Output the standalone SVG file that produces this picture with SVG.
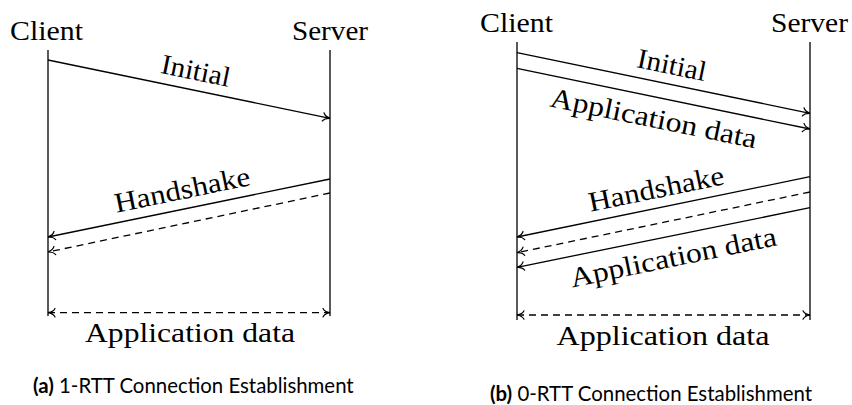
<svg xmlns="http://www.w3.org/2000/svg" width="852" height="405" viewBox="0 0 852 405">
<style>
.lbl{font-family:"Liberation Serif","Times New Roman",serif;font-size:28px;fill:#000}
.cap{font-family:Lato,"Noto Sans",sans-serif;font-size:20.4px;fill:#000}
.life{stroke:#000;stroke-width:1.3;fill:none}
.msg{stroke:#000;stroke-width:1.3;fill:none;marker-end:url(#to)}
.dash{stroke-dasharray:7 5}
.both{marker-start:url(#to)}
</style>
<defs>
<marker id="to" viewBox="-9 -6 11 12" markerWidth="11" markerHeight="12" refX="0" refY="0" orient="auto-start-reverse" markerUnits="userSpaceOnUse">
<path d="M-7,-4.2 C-5.8,-1.8 -2.4,-0.4 0,0 C-2.4,0.4 -5.8,1.8 -7,4.2" fill="none" stroke="#000" stroke-width="1.2" stroke-dasharray="none" stroke-linecap="round"/>
</marker>
</defs>

<!-- Diagram (a) -->
<g id="a-client">
<text class="lbl" x="10" y="40" textLength="73" lengthAdjust="spacingAndGlyphs">Client</text>
<line class="life" x1="48" y1="50" x2="48" y2="316"/>
</g>
<g id="a-server">
<text class="lbl" x="292" y="40" textLength="76" lengthAdjust="spacingAndGlyphs">Server</text>
<line class="life" x1="330" y1="50" x2="330" y2="316"/>
</g>
<g id="a-connectors">
<line class="msg" x1="48" y1="60" x2="330" y2="118.3"/>
<line class="msg" x1="330" y1="179" x2="48" y2="237"/>
<line class="msg dash" x1="330" y1="193" x2="48" y2="252"/>
<line class="msg dash both" x1="48" y1="312.7" x2="330" y2="312.7"/>
</g>
<g id="a-labels">
<text class="lbl" text-anchor="middle" x="192" y="79.6" transform="rotate(11.6 192 89.6)" textLength="70" lengthAdjust="spacingAndGlyphs">Initial</text>
<text class="lbl" text-anchor="middle" x="186" y="198.6" transform="rotate(-11.6 186 208.6)" textLength="138" lengthAdjust="spacingAndGlyphs">Handshake</text>
<text class="lbl" text-anchor="middle" x="190" y="342" textLength="210" lengthAdjust="spacingAndGlyphs">Application data</text>
</g>
<g id="caption-a">
<text class="cap" x="33" y="393"><tspan font-weight="bold">(a)</tspan> 1-RTT Connection Establishment</text>
</g>

<!-- Diagram (b) -->
<g id="b-client">
<text class="lbl" x="480" y="32" textLength="73" lengthAdjust="spacingAndGlyphs">Client</text>
<line class="life" x1="517" y1="42" x2="517" y2="320"/>
</g>
<g id="b-server">
<text class="lbl" x="771" y="32" textLength="77" lengthAdjust="spacingAndGlyphs">Server</text>
<line class="life" x1="810" y1="42" x2="810" y2="320"/>
</g>
<g id="b-connectors">
<line class="msg" x1="517" y1="52.7" x2="810" y2="113.3"/>
<line class="msg" x1="517" y1="68.3" x2="810" y2="129"/>
<line class="msg" x1="810" y1="176.7" x2="517" y2="237"/>
<line class="msg dash" x1="810" y1="192" x2="517" y2="252.7"/>
<line class="msg" x1="810" y1="207.7" x2="517" y2="267.3"/>
<line class="msg dash both" x1="517" y1="315" x2="810" y2="315"/>
</g>
<g id="b-labels">
<text class="lbl" text-anchor="middle" x="668" y="73.9" transform="rotate(11.6 668 83.9)" textLength="70" lengthAdjust="spacingAndGlyphs">Initial</text>
<text class="lbl" text-anchor="middle" x="658" y="127.9" transform="rotate(11.6 658 97.9)" textLength="210" lengthAdjust="spacingAndGlyphs">Application data</text>
<text class="lbl" text-anchor="middle" x="660" y="197.7" transform="rotate(-11.6 660 207.7)" textLength="138" lengthAdjust="spacingAndGlyphs">Handshake</text>
<text class="lbl" text-anchor="middle" x="669" y="266.9" transform="rotate(-11.6 669 236.9)" textLength="210" lengthAdjust="spacingAndGlyphs">Application data</text>
<text class="lbl" text-anchor="middle" x="663" y="345" textLength="213" lengthAdjust="spacingAndGlyphs">Application data</text>
</g>
<g id="caption-b">
<text class="cap" x="490" y="401"><tspan font-weight="bold">(b)</tspan> 0-RTT Connection Establishment</text>
</g>
</svg>
